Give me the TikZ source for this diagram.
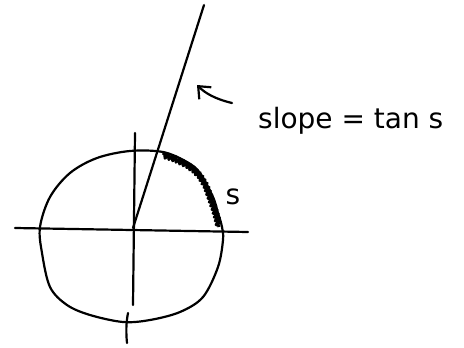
\documentclass[tikz,border=0pt]{standalone}
\usepackage{fontspec}
\setmainfont{DejaVu Sans}
\usetikzlibrary{decorations.pathmorphing,arrows.meta}
\begin{document}
\begin{tikzpicture}[x=1pt,y=-1pt,
  ink/.style={line width=2.2pt,line cap=round,line join=round},
  fuzz/.style={line width=3pt,line join=round,decorate,decoration={zigzag,segment length=4pt,amplitude=2.4pt}},
  lbl/.style={inner sep=0pt,font=\fontsize{28}{28}\selectfont}]
\useasboundingbox (0,0) rectangle (464,348);
% origin and ends
\coordinate (O) at (133,228);
\coordinate (xl) at (15,228);
\coordinate (xr) at (248,232);
\coordinate (yt) at (135,133);
\coordinate (yb) at (133,305);
\coordinate (ray) at (204,5);
% circle
\draw[ink] plot[smooth cycle,tension=0.55] coordinates {
 (130,151) (163,152) (187,162) (200,173) (213,197) (218,213) (222,227) (223,240)
 (218,267) (203,297) (180,312) (150,320) (123,322) (90,315) (67,305) (50,287)
 (42,253) (40,227) (50,197) (70,173) (97,158)};
% axes
\draw[ink] (xl) -- (xr);
\draw[ink] (yt) -- (yb);
\draw[ink] (128,313) .. controls (126,323) and (126,333) .. (127,343);
% ray
\draw[ink] (O) -- (ray);
% arc s (fuzzy)
\draw[fuzz] (163,155) -- (175,159) -- (187,165) -- (194,170) -- (200,176) -- (206,186) -- (210,197) -- (214,208) -- (217,218) -- (219,227);
% labels
\node[lbl] (s) at (233,197) {s};
\node[lbl,anchor=base west] (slope) at (258,128) {slope = tan s};
\coordinate (a1) at (232,103);
\coordinate (a2) at (197,85);
\draw[ink,-{Straight Barb[length=10pt,width=17pt]}] (a1) .. controls (215,99) and (205,93) .. (a2);
\end{tikzpicture}
\end{document}
